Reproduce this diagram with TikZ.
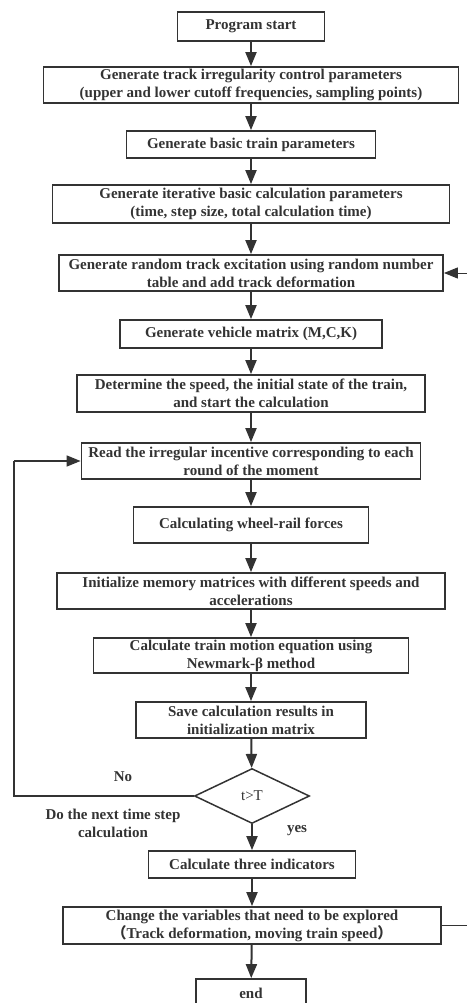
\documentclass[tikz,border=0pt]{standalone}
\usepackage{fontspec}
\setmainfont{Liberation Serif}
\newfontfamily\cjk{Noto Sans CJK SC}
\usetikzlibrary{arrows.meta,shapes.geometric}
\definecolor{ink}{HTML}{333333}
\begin{document}
\begin{tikzpicture}[x=1pt,y=-1pt,
  box/.style={draw=ink,line width=1.8pt,rectangle,align=center,inner sep=0pt,
    font=\fontsize{15}{18}\selectfont\bfseries,text=ink},
  decide/.style={draw=ink,line width=1.5pt,diamond,inner sep=0pt,
    font=\fontsize{15}{18}\selectfont,text=ink},
  lbl/.style={align=center,font=\fontsize{15}{18}\selectfont\bfseries,text=ink},
  flow/.style={draw=ink,line width=2pt,-{Triangle[width=11pt,length=14pt]}},
  loopl/.style={draw=ink,line width=1.5pt},
  loopr/.style={draw=ink,line width=1pt}]
\useasboundingbox (0,0) rectangle (466,1003);

\node[box,minimum width=147pt,minimum height=29pt] (start) at (251,26.5) {Program start};
\node[box,minimum width=415pt,minimum height=36pt] (irr) at (251,85) {Generate track irregularity control parameters\\(upper and lower cutoff frequencies, sampling points)};
\node[box,minimum width=249pt,minimum height=27pt] (basic) at (251,144.5) {Generate basic train parameters};
\node[box,minimum width=397pt,minimum height=38pt] (iter) at (251,204) {Generate iterative basic calculation parameters\\(time, step size, total calculation time)};
\node[box,minimum width=384pt,minimum height=36pt] (rand) at (251,273) {Generate random track excitation using random number\\table and add track deformation};
\node[box,minimum width=262pt,minimum height=28pt] (veh) at (251,334) {Generate vehicle matrix (M,C,K)};
\node[box,minimum width=348pt,minimum height=37pt] (det) at (251,393.5) {Determine the speed, the initial state of the train,\\and start the calculation};
\node[box,minimum width=339pt,minimum height=36pt] (read) at (251,461) {Read the irregular incentive corresponding to each\\round of the moment};
\node[box,minimum width=235pt,minimum height=36pt] (wheel) at (251,525) {Calculating wheel-rail forces};
\node[box,minimum width=388pt,minimum height=36pt] (init) at (251,591) {Initialize memory matrices with different speeds and\\accelerations};
\node[box,minimum width=315pt,minimum height=35pt] (newm) at (251,655.5) {Calculate train motion equation using\\Newmark-β method};
\node[box,minimum width=230pt,minimum height=36pt] (save) at (251,720) {Save calculation results in\\initialization matrix};
\node[decide,minimum width=115pt,minimum height=55pt] (dia) at (252,796) {t>T};
\node[box,minimum width=207pt,minimum height=27pt] (three) at (252,864.5) {Calculate three indicators};
\node[box,minimum width=378pt,minimum height=37pt] (change) at (252,925.5) {Change the variables that need to be explored\\{\cjk （}Track deformation, moving train speed{\cjk ）}};
\node[box,minimum width=110pt,minimum height=28pt] (end) at (251,993) {end};

\node[lbl] (no) at (123,777) {No};
\node[lbl] (next) at (113,823) {Do the next time step\\calculation};
\node[lbl] (yes) at (297,831) {yes};

\coordinate (lc) at (14,461);
\coordinate (rc) at (472,925.5);

\draw[flow] (start) -- (irr);
\draw[flow] (irr) -- (basic);
\draw[flow] (basic) -- (iter);
\draw[flow] (iter) -- (rand);
\draw[flow] (rand) -- (veh);
\draw[flow] (veh) -- (det);
\draw[flow] (det) -- (read);
\draw[flow] (read) -- (wheel);
\draw[flow] (wheel) -- (init);
\draw[flow] (init) -- (newm);
\draw[flow] (newm) -- (save);
\draw[flow] (save) -- (dia);
\draw[flow] (dia) -- (three);
\draw[flow] (three) -- (change);
\draw[flow] (change) -- (end);

\draw[loopl] (dia.west) -- (dia.west -| lc) -- (lc);
\draw[flow,line width=1.5pt] (lc) -- (read.west);
\draw[loopr] (change.east) -- (rc) -- (rc |- rand.east);
\draw[flow,line width=1pt] (rc |- rand.east) -- (rand.east);
\end{tikzpicture}
\end{document}
